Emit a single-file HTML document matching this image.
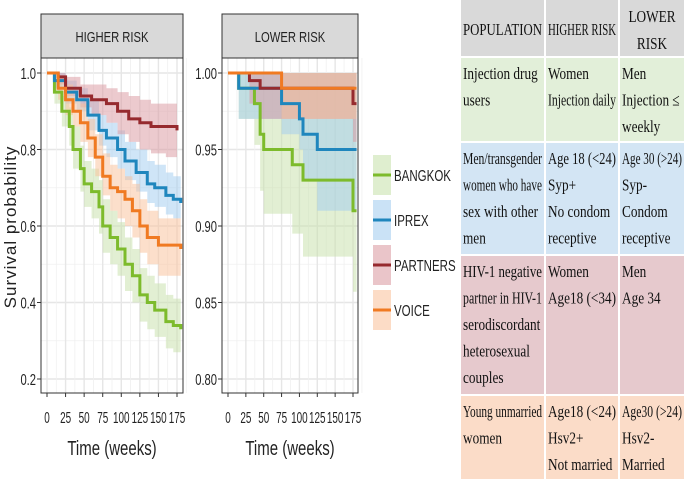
<!DOCTYPE html>
<html><head><meta charset="utf-8">
<style>
html,body{margin:0;padding:0;background:#fff;}
svg{display:block;}
.ax{font-family:"Liberation Sans",sans-serif;fill:#222;}
.tb{font-family:"Liberation Serif",serif;fill:#111;}
</style></head>
<body>
<svg id="chart" width="685" height="480" viewBox="0 0 685 480" xmlns="http://www.w3.org/2000/svg">
<g id="table"></g>
<g id="plots"></g>
<g id="legend"></g>
</svg>
<script>
// ---- data: higher risk ----
const hiBangkokT=[0,10,20,30,35,45,50,60,70,75,85,95,105,115,125,135,145,160,170,180];
const hiBangkokV=[1.0,0.95,0.90,0.86,0.80,0.75,0.71,0.69,0.65,0.60,0.57,0.54,0.50,0.47,0.42,0.40,0.38,0.35,0.34,0.33];
const hiBangkokLo=[1.0,0.92,0.86,0.81,0.75,0.69,0.65,0.62,0.58,0.53,0.50,0.47,0.43,0.40,0.35,0.33,0.31,0.28,0.27,0.25];
const hiBangkokHi=[1.0,0.98,0.94,0.91,0.86,0.81,0.77,0.75,0.72,0.67,0.64,0.61,0.57,0.54,0.49,0.47,0.45,0.42,0.41,0.40];
const hiIprexT=[0,10,25,40,55,70,80,95,105,120,135,145,160,170,180];
const hiIprexV=[1.0,0.98,0.95,0.93,0.89,0.85,0.83,0.80,0.77,0.74,0.71,0.70,0.68,0.67,0.66];
const hiIprexLo=[1.0,0.96,0.92,0.90,0.85,0.81,0.78,0.75,0.72,0.69,0.66,0.65,0.63,0.62,0.61];
const hiIprexHi=[1.0,1.0,0.98,0.96,0.93,0.89,0.87,0.85,0.82,0.80,0.77,0.76,0.74,0.73,0.72];
const hiPartnersT=[0,15,25,45,60,80,95,110,125,140,160,175];
const hiPartnersV=[1.0,0.99,0.96,0.94,0.93,0.92,0.90,0.88,0.87,0.86,0.86,0.85];
const hiPartnersLo=[1.0,0.97,0.94,0.91,0.89,0.87,0.84,0.82,0.80,0.79,0.78,0.77];
const hiPartnersHi=[1.0,1.0,0.99,0.97,0.97,0.96,0.95,0.94,0.93,0.92,0.92,0.91];
const hiVoiceT=[0,15,25,35,45,55,65,75,85,95,105,115,125,135,150,180];
const hiVoiceV=[1.0,0.96,0.93,0.90,0.87,0.83,0.78,0.73,0.70,0.69,0.67,0.64,0.60,0.57,0.55,0.54];
const hiVoiceLo=[1.0,0.93,0.89,0.86,0.82,0.78,0.73,0.68,0.64,0.62,0.60,0.57,0.53,0.50,0.47,0.45];
const hiVoiceHi=[1.0,0.99,0.97,0.94,0.92,0.88,0.84,0.79,0.76,0.75,0.73,0.71,0.67,0.64,0.62,0.61];
// ---- data: lower risk ----
const loBangkokT=[0,15,37,45,50,90,105,175,180];
const loBangkokV=[1.0,0.99,0.98,0.96,0.95,0.94,0.93,0.91,0.91];
const loBangkokLo=[1.0,0.97,0.953,0.923,0.908,0.895,0.88,0.857,0.857];
const loBangkokHi=[1.0,1.0,1.0,1.0,1.0,1.0,1.0,1.0,1.0];
const loIprexT=[0,15,75,100,105,125,180];
const loIprexV=[1.0,0.99,0.98,0.97,0.96,0.95,0.95];
const loIprexLo=[1.0,0.97,0.96,0.95,0.93,0.91,0.91];
const loIprexHi=[1.0,1.0,1.0,1.0,1.0,1.0,1.0];
const loPartnersT=[0,30,45,175,180];
const loPartnersV=[1.0,0.995,0.99,0.98,0.98];
const loPartnersLo=[1.0,0.98,0.97,0.955,0.955];
const loPartnersHi=[1.0,1.0,1.0,1.0,1.0];
const loVoiceT=[0,75,180];
const loVoiceV=[1.0,0.99,0.99];
const loVoiceLo=[1.0,0.97,0.97];
const loVoiceHi=[1.0,1.0,1.0];
const xTicks=[0,25,50,75,100,125,150,175];
const yTicksHi=[0.2,0.4,0.6,0.8,1.0];
const yTicksLo=[0.80,0.85,0.90,0.95,1.00];
const seriesNames=["BANGKOK","IPREX","PARTNERS","VOICE"];

const NS="http://www.w3.org/2000/svg";
function mk(tag,attrs,parent){const e=document.createElementNS(NS,tag);for(const k in attrs)e.setAttribute(k,attrs[k]);parent.appendChild(e);return e;}
function txt(parent,x,y,str,size,anchor,sx,cls){
  const t=mk("text",{x:0,y:0,transform:"translate("+x+","+y+") scale("+sx+",1)","text-anchor":anchor,"font-size":size,class:cls},parent);
  t.textContent=str;return t;
}
const COL={BANGKOK:"#7dbb2c",IPREX:"#1f86bd",PARTNERS:"#962a2e",VOICE:"#f07a22"};
const BAND={BANGKOK:"#c5e0a8",IPREX:"#9fcbef",PARTNERS:"#d9959d",VOICE:"#f9bf97"};

function stepPts(T,V,x,y){let p=[];for(let i=0;i<T.length;i++){if(i>0)p.push([x(T[i]),y(V[i-1])]);p.push([x(T[i]),y(V[i])]);}return p;}

function panel(opts){
  const g=mk("g",{},document.getElementById("plots"));
  
  
  const {x0,x1,y0,y1}=opts;
  const x=t=>opts.px0+(t/175)*(opts.px175-opts.px0);
  const y=v=>opts.py1+(opts.vTop-v)/(opts.vTop-opts.vBot)*(opts.py0-opts.py1);
  const st=mk("rect",{x:x0,y:14,width:x1-x0,height:44,fill:"#d9d9d9",stroke:"#333","stroke-width":1},g);
  
  
  const stt=txt(g,(x0+x1)/2,42,opts.title,15,"middle",0.75,"ax");
  
  
  mk("rect",{x:x0,y:y0,width:x1-x0,height:y1-y0,fill:"#fff"},g);
  const yt=opts.yTicks;
  const step=yt[1]-yt[0];
  for(let i=0;i<yt.length;i++){
    mk("line",{x1:x0,x2:x1,y1:y(yt[i]),y2:y(yt[i]),stroke:"#e6e6e6","stroke-width":1.4},g);
    if(i<yt.length-1){const m=yt[i]+step/2;mk("line",{x1:x0,x2:x1,y1:y(m),y2:y(m),stroke:"#f0f0f0","stroke-width":0.8},g);}
  }
  for(let i=0;i<xTicks.length;i++){
    mk("line",{x1:x(xTicks[i]),x2:x(xTicks[i]),y1:y0,y2:y1,stroke:"#e6e6e6","stroke-width":1.4},g);
    mk("line",{x1:x(xTicks[i]+12.5),x2:x(xTicks[i]+12.5),y1:y0,y2:y1,stroke:"#f0f0f0","stroke-width":0.8},g);
  }
  opts.series.forEach(s=>{
    const up=stepPts(s.T,s.Hi,x,y), lo=stepPts(s.T,s.Lo,x,y).reverse();
    const b=mk("polygon",{points:up.concat(lo).map(p=>p.join(",")).join(" "),fill:BAND[s.n],"fill-opacity":0.5},g);
    
    
  });
  opts.series.forEach(s=>{
    const l=mk("polyline",{points:stepPts(s.T,s.V,x,y).map(p=>p.join(",")).join(" "),fill:"none",stroke:COL[s.n],"stroke-width":3},g);
    
    
  });
  mk("rect",{x:x0,y:y0,width:x1-x0,height:y1-y0,fill:"none",stroke:"#333","stroke-width":1},g);
  yt.forEach(v=>{
    mk("line",{x1:x0-4,x2:x0,y1:y(v),y2:y(v),stroke:"#333"},g);
    const t=txt(g,x0-5,y(v)+6,opts.fmt(v),16,"end",0.7,"ax");
    
    
  });
  xTicks.forEach(v=>{
    mk("line",{x1:x(v),x2:x(v),y1:y1,y2:y1+4,stroke:"#333"},g);
    const t=txt(g,x(v),423,String(v),16,"middle",0.62,"ax");
    
    
  });
  const xt=txt(g,(x0+x1)/2,455,"Time (weeks)",20,"middle",0.75,"ax");
  
  
}

panel({name:"higher-risk-panel",title:"HIGHER RISK",x0:41,x1:183,y0:58,y1:393,px0:47,px175:177,py1:73,py0:379,vTop:1.0,vBot:0.2,yTicks:yTicksHi,fmt:v=>v.toFixed(1),
 series:[{n:"BANGKOK",T:hiBangkokT,V:hiBangkokV,Lo:hiBangkokLo,Hi:hiBangkokHi},{n:"IPREX",T:hiIprexT,V:hiIprexV,Lo:hiIprexLo,Hi:hiIprexHi},{n:"PARTNERS",T:hiPartnersT,V:hiPartnersV,Lo:hiPartnersLo,Hi:hiPartnersHi},{n:"VOICE",T:hiVoiceT,V:hiVoiceV,Lo:hiVoiceLo,Hi:hiVoiceHi}]});
panel({name:"lower-risk-panel",title:"LOWER RISK",x0:222,x1:358,y0:58,y1:393,px0:228,px175:353,py1:73,py0:379,vTop:1.0,vBot:0.8,yTicks:yTicksLo,fmt:v=>v.toFixed(2),
 series:[{n:"BANGKOK",T:loBangkokT,V:loBangkokV,Lo:loBangkokLo,Hi:loBangkokHi},{n:"IPREX",T:loIprexT,V:loIprexV,Lo:loIprexLo,Hi:loIprexHi},{n:"PARTNERS",T:loPartnersT,V:loPartnersV,Lo:loPartnersLo,Hi:loPartnersHi},{n:"VOICE",T:loVoiceT,V:loVoiceV,Lo:loVoiceLo,Hi:loVoiceHi}]});

(function(){
  const t=mk("text",{x:0,y:0,transform:"translate(16,227) rotate(-90)","text-anchor":"middle","font-size":"17","letter-spacing":"1",class:"ax"},document.getElementById("plots"));
  t.textContent="Survival probability";
  
  
})();

(function(){
  const lg=document.getElementById("legend");
  seriesNames.forEach((n,i)=>{
    const yy=155+i*45;
    const k=mk("rect",{x:373,y:yy,width:18,height:40,fill:BAND[n],"fill-opacity":0.55},lg);
    
    
    mk("line",{x1:373,x2:391,y1:yy+20,y2:yy+20,stroke:COL[n],"stroke-width":3},lg);
    const t=txt(lg,394,yy+26,n,16,"start",0.72,"ax");
    
    
  });
})();

(function(){
  const tb=document.getElementById("table");
  const cols=[460,545,619,685];
  const rows=[[0,56,"#d9d9d9"],[58,141,"#e2efd9"],[143,254,"#d3e5f4"],[256,394,"#e6c9cd"],[396,479,"#fbdcc8"]];
  const cells=[
    [["POPULATION"],["HIGHER RISK"],["LOWER","RISK"]],
    [["Injection drug","users"],["Women","Injection daily"],["Men","Injection ≤","weekly"]],
    [["Men/transgender","women who have","sex with other","men"],["Age 18 (<24)","Syp+","No condom","receptive"],["Age 30 (>24)","Syp-","Condom","receptive"]],
    [["HIV-1 negative","partner in HIV-1","serodiscordant","heterosexual","couples"],["Women","Age18 (<34)"],["Men","Age 34"]],
    [["Young unmarried","women"],["Age18 (<24)","Hsv2+","Not married"],["Age30 (>24)","Hsv2-","Married"]]
  ];
  rows.forEach((r,ri)=>{
    for(let c=0;c<3;c++){
      const rc=mk("rect",{x:cols[c]+1,y:r[0],width:cols[c+1]-cols[c]-2,height:r[1]-r[0],fill:r[2]},tb);
      
      
      const lines=cells[ri][c];
      const w=cols[c+1]-cols[c]-6;
      lines.forEach((ln,li)=>{
        let tx,ty,anchor="start";
        if(ri===0){
          anchor="middle";tx=(cols[c]+cols[c+1])/2;
          ty=lines.length===1?35:22+li*27;
        } else {tx=cols[c]+3;ty=r[0]+21+li*26.5;}
        const t=txt(tb,tx,ty,ln,17,anchor,0.78,"tb");
        
        
        const L=t.getComputedTextLength()*0.78;
        if(L>w){t.setAttribute("transform","translate("+tx+","+ty+") scale("+(0.78*w/L)+",1)");}
      });
    }
  });
})();
</script>
</body></html>
